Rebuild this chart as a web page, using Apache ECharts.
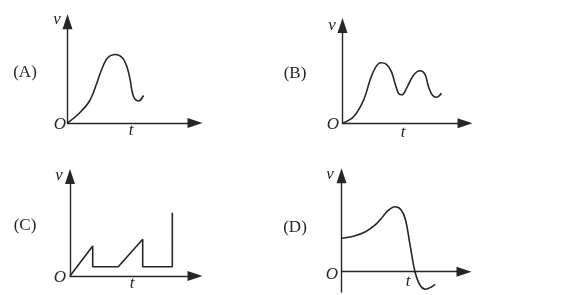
<!DOCTYPE html>
<html>
<head>
<meta charset="utf-8">
<script src="https://cdn.jsdelivr.net/npm/echarts@6/dist/echarts.min.js"></script>
<style>
html,body{margin:0;padding:0;background:#fff;}
#chart{width:573px;height:295px;}
</style>
</head>
<body>
<div id="chart"></div>
<script>
// Panel labels
const panelLabels = ['(A)', '(B)', '(C)', '(D)'];
const axisNames = { v: 'v', t: 't', origin: 'O' };

// (A) single hump
const tA = [0, 1.2, 2.2, 2.9, 3.4, 4.0, 4.8, 5.5, 5.95, 6.25, 6.45, 6.7, 7.1, 7.6];
const vA = [0, 1.0, 2.2, 3.9, 5.3, 6.5, 6.85, 6.5, 5.6, 4.4, 3.2, 2.45, 2.2, 2.75];

// (B) two humps
const tB = [0, 1.1, 2.1, 2.75, 3.25, 3.8, 4.4, 4.9, 5.25, 5.6, 5.95, 6.4, 7.1, 7.75, 8.25, 8.6, 9.0, 9.4, 9.9];
const vB = [0, 0.65, 2.3, 4.3, 5.5, 6.05, 5.9, 5.15, 4.0, 3.0, 2.85, 3.5, 4.8, 5.25, 4.9, 3.65, 2.8, 2.6, 3.0];

// (C) saw-tooth / step
const tC = [0, 2.27, 2.27, 4.83, 7.27, 7.27, 10.23, 10.23];
const vC = [0, 3.0, 0.93, 0.93, 3.67, 0.93, 0.93, 6.33];

// (D) starts above zero, goes negative
const tD = [0, 1.2, 2.4, 3.4, 4.2, 4.7, 5.35, 5.95, 6.4, 6.85, 7.35, 7.85, 8.4, 8.95, 9.35];
const vD = [3.35, 3.55, 4.0, 4.7, 5.6, 6.15, 6.5, 6.2, 5.2, 2.7, 0, -1.33, -1.75, -1.55, -1.26];

const seriesT = [tA, tB, tC, tD];
const seriesV = [vA, vB, vC, vD];
const smoothFlags = [0.35, 0.35, false, 0.35];

// layout of each small panel (pixels): origin, arrow tips, bottom of v axis
const layout = [
  { ox: 67.5, oy: 123,   xTip: 202.5, yTip: 14.3,  yBottom: 123 },
  { ox: 342.5, oy: 123.3, xTip: 472.5, yTip: 18,    yBottom: 123.3 },
  { ox: 70,   oy: 276,   xTip: 202.5, yTip: 169,   yBottom: 276 },
  { ox: 341.5, oy: 271.7, xTip: 471.5, yTip: 168.3, yBottom: 292 }
];
const textPos = [
  { lab: [25, 73],  v: [57, 20],  o: [60, 125],  t: [131, 131] },
  { lab: [295, 74], v: [332, 26], o: [333, 125], t: [403, 133] },
  { lab: [25, 226], v: [59, 176], o: [60, 278],  t: [132, 284] },
  { lab: [295, 228], v: [330, 175], o: [332, 275], t: [408, 282] }
];

const ARROW = [10, 15];
const UNIT = 10; // px per data unit
const ink = '#262626';

const grids = [], xAxes = [], yAxes = [], series = [], graphics = [];
layout.forEach((L, i) => {
  const top = L.yTip + ARROW[1] / 2;
  const width = L.xTip - ARROW[1] / 2 - L.ox;
  const height = L.yBottom - top;
  grids.push({ left: L.ox, top: top, width: width, height: height, outerBoundsMode: 'none', containLabel: false });
  const axisCommon = {
    type: 'value',
    gridIndex: i,
    axisLine: { show: true, symbol: ['none', 'triangle'], symbolSize: ARROW, lineStyle: { color: ink, width: 1.4 } },
    axisTick: { show: false },
    axisLabel: { show: false },
    splitLine: { show: false }
  };
  xAxes.push(Object.assign({}, axisCommon, { min: 0, max: width / UNIT, axisLine: Object.assign({}, axisCommon.axisLine, { onZero: true }) }));
  yAxes.push(Object.assign({}, axisCommon, { min: -(L.yBottom - L.oy) / UNIT, max: (L.oy - top) / UNIT }));
  series.push({
    type: 'line',
    xAxisIndex: i,
    yAxisIndex: i,
    data: seriesT[i].map((t, k) => [t, seriesV[i][k]]),
    smooth: smoothFlags[i],
    showSymbol: false,
    symbol: 'none',
    lineStyle: { color: ink, width: 1.6 },
    silent: true,
    animation: false
  });
  const P = textPos[i];
  const mk = (txt, pos, italic) => ({
    type: 'text', x: pos[0], y: pos[1],
    style: {
      text: txt, fontFamily: 'Liberation Serif', fontSize: 17,
      fontStyle: italic ? 'italic' : 'normal',
      fill: ink, align: 'center', verticalAlign: 'middle'
    }
  });
  graphics.push(mk(panelLabels[i], P.lab, false));
  graphics.push(mk(axisNames.v, P.v, true));
  graphics.push(mk(axisNames.origin, P.o, true));
  graphics.push(mk(axisNames.t, P.t, true));
});

const chart = echarts.init(document.getElementById('chart'), null, { renderer: 'canvas' });
chart.setOption({
  backgroundColor: '#ffffff',
  animation: false,
  grid: grids,
  xAxis: xAxes,
  yAxis: yAxes,
  series: series,
  graphic: graphics
});
</script>
</body>
</html>
